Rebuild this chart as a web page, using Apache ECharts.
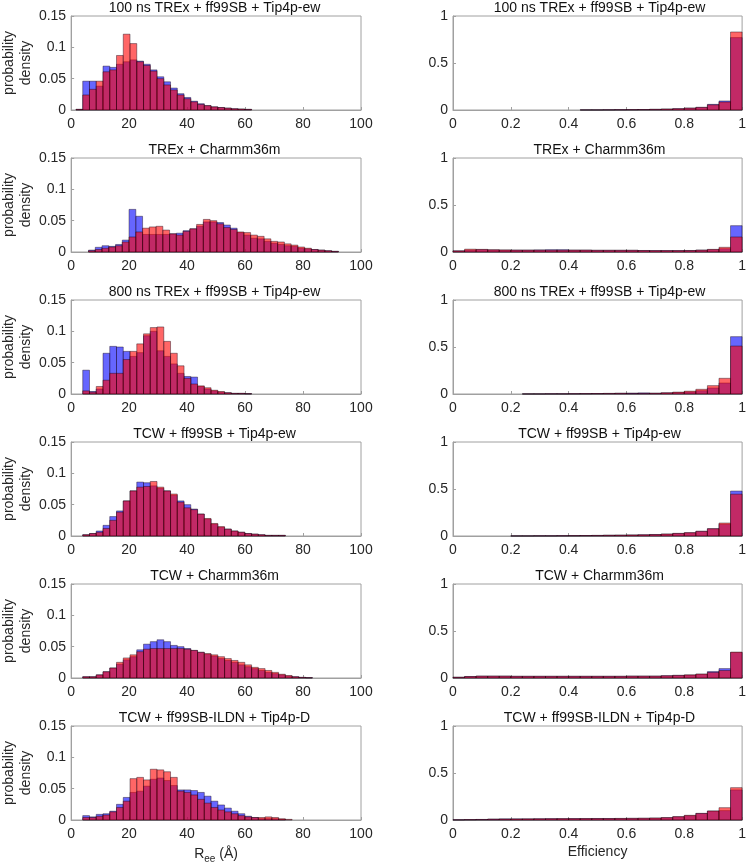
<!DOCTYPE html>
<html>
<head>
<meta charset="utf-8">
<script src="https://cdn.jsdelivr.net/npm/echarts@6/dist/echarts.min.js"></script>
<style>
  html, body { margin: 0; padding: 0; background: #fff; }
  #chart { width: 749px; height: 867px; }
</style>
</head>
<body>
<div id="chart"></div>
<script>
const titles = [
  '100 ns TREx + ff99SB + Tip4p-ew',
  'TREx + Charmm36m',
  '800 ns TREx + ff99SB + Tip4p-ew',
  'TCW + ff99SB + Tip4p-ew',
  'TCW + Charmm36m',
  'TCW + ff99SB-ILDN + Tip4p-D'
]

// R_ee histograms (bin width ~2.33 Å, first edge per panel)
const reeStart = [1.67, 6, 4, 4, 4, 4]
const reeBin = 2.33
const reeBlue1 = [0.001, 0.046, 0.046, 0.038, 0.070, 0.068, 0.073, 0.077, 0.080, 0.078, 0.073, 0.064, 0.053, 0.045, 0.035, 0.026, 0.020, 0.014, 0.010, 0.007, 0.005, 0.004, 0.003, 0.002, 0.0015, 0.001]
const reeRed1 = [0.001, 0.024, 0.033, 0.046, 0.061, 0.064, 0.087, 0.121, 0.106, 0.077, 0.071, 0.062, 0.050, 0.040, 0.032, 0.024, 0.018, 0.013, 0.009, 0.007, 0.005, 0.004, 0.003, 0.002, 0.0015, 0.001]
const reeBlue2 = [0.003, 0.0075, 0.010, 0.009, 0.012, 0.019, 0.068, 0.057, 0.028, 0.028, 0.028, 0.028, 0.029, 0.030, 0.034, 0.037, 0.041, 0.048, 0.048, 0.047, 0.043, 0.038, 0.031, 0.027, 0.022, 0.021, 0.017, 0.014, 0.012, 0.010, 0.009, 0.006, 0.005, 0.004, 0.003, 0.002, 0.001]
const reeRed2 = [0.002, 0.004, 0.006, 0.008, 0.010, 0.016, 0.024, 0.032, 0.038, 0.040, 0.041, 0.035, 0.029, 0.027, 0.033, 0.037, 0.044, 0.052, 0.050, 0.045, 0.039, 0.036, 0.032, 0.031, 0.027, 0.025, 0.021, 0.017, 0.016, 0.013, 0.011, 0.008, 0.006, 0.004, 0.003, 0.002, 0.001]
const reeBlue3 = [0.038, 0.004, 0.008, 0.065, 0.076, 0.075, 0.068, 0.060, 0.066, 0.093, 0.100, 0.069, 0.060, 0.048, 0.033, 0.028, 0.027, 0.012, 0.008, 0.005, 0.003, 0.002, 0.001, 0.001, 0.0005]
const reeRed3 = [0.005, 0.003, 0.012, 0.022, 0.033, 0.033, 0.055, 0.068, 0.080, 0.096, 0.106, 0.107, 0.084, 0.065, 0.045, 0.025, 0.016, 0.013, 0.010, 0.006, 0.004, 0.002, 0.001, 0.001, 0.0005]
const reeBlue4 = [0.002, 0.004, 0.008, 0.017, 0.031, 0.040, 0.056, 0.072, 0.086, 0.085, 0.080, 0.076, 0.072, 0.065, 0.056, 0.050, 0.043, 0.035, 0.027, 0.019, 0.014, 0.011, 0.008, 0.006, 0.004, 0.003, 0.002, 0.001, 0.001, 0.001]
const reeRed4 = [0.002, 0.004, 0.006, 0.012, 0.025, 0.038, 0.056, 0.072, 0.078, 0.079, 0.087, 0.078, 0.072, 0.067, 0.054, 0.045, 0.042, 0.035, 0.028, 0.020, 0.015, 0.011, 0.008, 0.006, 0.004, 0.003, 0.002, 0.001, 0.001, 0.001]
const reeBlue5 = [0.002, 0.002, 0.005, 0.010, 0.016, 0.022, 0.029, 0.034, 0.045, 0.054, 0.058, 0.061, 0.058, 0.052, 0.050, 0.047, 0.044, 0.041, 0.038, 0.035, 0.031, 0.028, 0.025, 0.021, 0.018, 0.015, 0.012, 0.009, 0.007, 0.005, 0.003, 0.002, 0.001, 0.0005]
const reeRed5 = [0.002, 0.002, 0.005, 0.010, 0.016, 0.025, 0.032, 0.037, 0.042, 0.046, 0.047, 0.047, 0.047, 0.047, 0.047, 0.046, 0.044, 0.041, 0.039, 0.037, 0.034, 0.031, 0.028, 0.025, 0.021, 0.017, 0.015, 0.012, 0.009, 0.006, 0.004, 0.002, 0.001, 0.0005]
const reeBlue6 = [0.007, 0.005, 0.009, 0.010, 0.014, 0.025, 0.036, 0.044, 0.046, 0.054, 0.065, 0.067, 0.063, 0.055, 0.048, 0.048, 0.047, 0.044, 0.038, 0.030, 0.024, 0.019, 0.014, 0.010, 0.006, 0.004, 0.002, 0.002, 0.002, 0.001]
const reeRed6 = [0.004, 0.004, 0.006, 0.008, 0.013, 0.020, 0.030, 0.066, 0.068, 0.064, 0.081, 0.080, 0.077, 0.068, 0.046, 0.044, 0.040, 0.033, 0.027, 0.020, 0.016, 0.013, 0.010, 0.007, 0.005, 0.004, 0.004, 0.005, 0.004, 0.002, 0.001]

// efficiency histograms (25 bins of 0.04)
const effBin = 0.04
const effBlue1 = [0, 0, 0, 0, 0, 0, 0, 0, 0, 0, 0, 0.001, 0.001, 0.002, 0.003, 0.004, 0.005, 0.007, 0.010, 0.014, 0.020, 0.028, 0.060, 0.096, 0.77]
const effRed1 = [0, 0, 0, 0, 0, 0, 0, 0, 0, 0, 0, 0.001, 0.001, 0.002, 0.003, 0.004, 0.005, 0.007, 0.010, 0.014, 0.020, 0.028, 0.055, 0.085, 0.83]
const effBlue2 = [0.012, 0.020, 0.025, 0.022, 0.020, 0.020, 0.020, 0.022, 0.024, 0.024, 0.020, 0.020, 0.018, 0.018, 0.018, 0.018, 0.016, 0.015, 0.015, 0.015, 0.016, 0.020, 0.025, 0.035, 0.28]
const effRed2 = [0.012, 0.030, 0.028, 0.024, 0.022, 0.020, 0.020, 0.020, 0.020, 0.020, 0.020, 0.020, 0.018, 0.018, 0.018, 0.018, 0.016, 0.015, 0.015, 0.015, 0.016, 0.020, 0.028, 0.050, 0.16]
const effBlue3 = [0, 0, 0, 0, 0, 0, 0.001, 0.001, 0.002, 0.002, 0.003, 0.004, 0.005, 0.006, 0.008, 0.010, 0.012, 0.008, 0.012, 0.016, 0.022, 0.035, 0.064, 0.117, 0.61]
const effRed3 = [0, 0, 0, 0, 0, 0, 0.001, 0.001, 0.002, 0.002, 0.003, 0.004, 0.005, 0.006, 0.007, 0.005, 0.006, 0.008, 0.013, 0.020, 0.030, 0.050, 0.089, 0.167, 0.51]
const effBlue4 = [0, 0, 0, 0, 0, 0.001, 0.001, 0.002, 0.002, 0.003, 0.004, 0.005, 0.006, 0.008, 0.009, 0.011, 0.013, 0.016, 0.020, 0.027, 0.034, 0.050, 0.077, 0.125, 0.478]
const effRed4 = [0, 0, 0, 0, 0, 0.001, 0.001, 0.002, 0.002, 0.003, 0.004, 0.005, 0.006, 0.008, 0.009, 0.011, 0.013, 0.016, 0.021, 0.028, 0.036, 0.050, 0.078, 0.138, 0.445]
const effBlue5 = [0.008, 0.016, 0.020, 0.020, 0.020, 0.018, 0.018, 0.018, 0.018, 0.018, 0.018, 0.018, 0.018, 0.018, 0.018, 0.020, 0.020, 0.020, 0.024, 0.028, 0.032, 0.040, 0.068, 0.100, 0.272]
const effRed5 = [0.008, 0.016, 0.020, 0.020, 0.020, 0.018, 0.018, 0.018, 0.018, 0.018, 0.018, 0.018, 0.018, 0.018, 0.018, 0.020, 0.020, 0.020, 0.024, 0.028, 0.033, 0.042, 0.060, 0.080, 0.275]
const effBlue6 = [0.002, 0.004, 0.006, 0.010, 0.012, 0.012, 0.012, 0.013, 0.014, 0.014, 0.015, 0.015, 0.016, 0.016, 0.016, 0.017, 0.018, 0.020, 0.024, 0.034, 0.046, 0.070, 0.095, 0.100, 0.32]
const effRed6 = [0.002, 0.004, 0.005, 0.008, 0.010, 0.011, 0.012, 0.013, 0.014, 0.015, 0.015, 0.016, 0.016, 0.016, 0.017, 0.018, 0.019, 0.021, 0.026, 0.036, 0.050, 0.070, 0.096, 0.131, 0.344]

const reeBlue = [reeBlue1, reeBlue2, reeBlue3, reeBlue4, reeBlue5, reeBlue6]
const reeRed = [reeRed1, reeRed2, reeRed3, reeRed4, reeRed5, reeRed6]
const effBlue = [effBlue1, effBlue2, effBlue3, effBlue4, effBlue5, effBlue6]
const effRed = [effRed1, effRed2, effRed3, effRed4, effRed5, effRed6]

const font = 'Liberation Sans, Arial, Helvetica, sans-serif'
const blueFill = 'rgba(0,0,255,0.6)'
const redFill = 'rgba(255,0,0,0.6)'
const frameColor = '#a0a0a0'
const textColor = '#262626'

function histSeries (axisIdx, start, width, values, fill) {
  let data = []
  for (let i = 0; i < values.length; i++) {
    if (values[i] > 0) data.push([start + i * width, start + (i + 1) * width, values[i]])
  }
  return {
    type: 'custom',
    xAxisIndex: axisIdx,
    yAxisIndex: axisIdx,
    encode: { x: [0, 1], y: 2 },
    data: data,
    silent: true,
    renderItem: function (params, api) {
      let p0 = api.coord([api.value(0), api.value(2)])
      let p1 = api.coord([api.value(1), 0])
      return {
        type: 'rect',
        shape: { x: p0[0], y: p0[1], width: p1[0] - p0[0], height: p1[1] - p0[1] },
        style: { fill: fill, stroke: 'rgba(20,0,20,0.7)', lineWidth: 0.6 }
      }
    }
  }
}

let grids = []
let xAxes = []
let yAxes = []
let series = []
let graphics = []
const plotW = 293
const plotH = 94
const colLeft = [68, 453]

for (let row = 0; row < 6; row++) {
  const top = 16 + row * 142
  for (let col = 0; col < 2; col++) {
    const idx = row * 2 + col
    grids.push({ left: colLeft[col], top: top, width: plotW, height: plotH, show: true, borderColor: frameColor, borderWidth: 1, backgroundColor: 'transparent' })
    const isLast = row === 5
    xAxes.push({
      gridIndex: idx,
      type: 'value',
      min: 0,
      max: col === 0 ? 100 : 1,
      interval: col === 0 ? 20 : 0.2,
      axisLine: { show: true, lineStyle: { color: frameColor } },
      axisTick: { show: true, inside: true, length: 3, lineStyle: { color: frameColor } },
      splitLine: { show: false },
      axisLabel: { fontSize: 14, color: textColor, fontFamily: font, margin: 7 },
      name: isLast ? (col === 0 ? '{a|R}{b|ee}{a| (Å)}' : 'Efficiency') : '',
      nameLocation: 'middle',
      nameGap: 25,
      nameTextStyle: {
        fontSize: 14, color: textColor, fontFamily: font,
        rich: {
          a: { fontSize: 14, color: textColor, fontFamily: font },
          b: { fontSize: 10, color: textColor, fontFamily: font, padding: [9, 0, 0, 0] }
        }
      }
    })
    yAxes.push({
      gridIndex: idx,
      type: 'value',
      min: 0,
      max: col === 0 ? 0.15 : 1,
      interval: col === 0 ? 0.05 : 0.5,
      axisLine: { show: true, lineStyle: { color: frameColor } },
      axisTick: { show: true, inside: true, length: 3, lineStyle: { color: frameColor } },
      splitLine: { show: false },
      axisLabel: { fontSize: 14, color: textColor, fontFamily: font, margin: 5 },
      name: col === 0 ? 'probability\ndensity' : '',
      nameLocation: 'middle',
      nameRotate: 90,
      nameGap: 34,
      nameTextStyle: { fontSize: 14, lineHeight: 17, color: textColor, fontFamily: font }
    })
    if (col === 0) {
      series.push(histSeries(idx, reeStart[row], reeBin, reeBlue[row], blueFill))
      series.push(histSeries(idx, reeStart[row], reeBin, reeRed[row], redFill))
    } else {
      series.push(histSeries(idx, 0, effBin, effBlue[row], blueFill))
      series.push(histSeries(idx, 0, effBin, effRed[row], redFill))
    }
    graphics.push({
      type: 'text',
      x: colLeft[col] + plotW / 2,
      y: top - 1,
      style: { text: titles[row], textAlign: 'center', textVerticalAlign: 'bottom', fontSize: 14, fontFamily: font, fill: '#111' }
    })
  }
}

const chart = echarts.init(document.getElementById('chart'), null, { renderer: 'canvas' })
chart.setOption({
  backgroundColor: '#fff',
  animation: false,
  grid: grids,
  xAxis: xAxes,
  yAxis: yAxes,
  series: series,
  graphic: graphics
})
</script>
</body>
</html>
